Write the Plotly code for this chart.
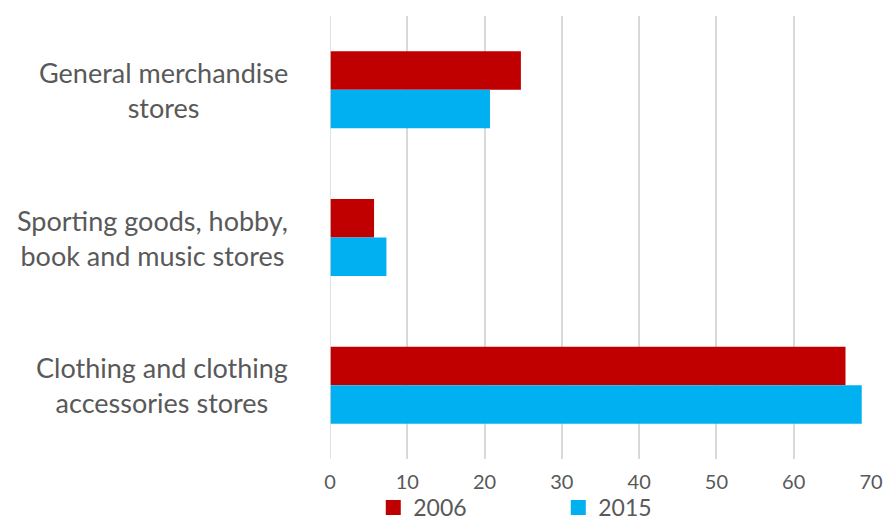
import plotly.graph_objects as go

categories = ["General merchandise<br>stores",
              "Sporting goods, hobby,<br>book and music stores",
              "Clothing and clothing<br>accessories stores"]
series_names = ["2006", "2015"]
values_2006 = [24.7, 5.7, 66.7]
values_2015 = [20.7, 7.3, 68.8]
x_ticks = [0, 10, 20, 30, 40, 50, 60, 70]

colors = ["#C00000", "#00B0F0"]
font_family = "Lato, 'Open Sans', sans-serif"
text_color = "#595959"

fig = go.Figure()
for name, vals, col in zip(series_names, [values_2006, values_2015], colors):
    fig.add_trace(go.Bar(
        y=categories, x=vals, name=name, orientation="h",
        marker=dict(color=col, line=dict(width=0)), showlegend=False,
    ))
# legend entries with larger square swatches
for name, col in zip(series_names, colors):
    fig.add_trace(go.Scatter(
        x=[None], y=[None], mode="markers", name=name,
        marker=dict(symbol="square", size=15, color=col), showlegend=True,
    ))

for cat in categories:
    fig.add_annotation(
        x=0, xref="paper", y=cat, yref="y", xanchor="right", yanchor="middle",
        xshift=-40, align="center", text=cat, showarrow=False,
        font=dict(family=font_family, size=27, color=text_color),
    )

fig.update_layout(
    width=885, height=521,
    margin=dict(l=330, r=14, t=16, b=62, autoexpand=False),
    paper_bgcolor="white", plot_bgcolor="white",
    barmode="group", bargap=0.478, bargroupgap=0,
    showlegend=True,
    legend=dict(orientation="h", x=0.08, xref="paper", y=0.026, yref="container",
                xanchor="left", yanchor="middle",
                font=dict(family=font_family, size=23, color=text_color),
                entrywidth=140, entrywidthmode="pixels", itemwidth=30,
                bgcolor="rgba(0,0,0,0)"),
    xaxis=dict(range=[0, 70], tickvals=x_ticks, showgrid=True,
               gridcolor="#D9D9D9", gridwidth=1.5, zeroline=False,
               ticks="outside", ticklen=5, tickcolor="rgba(0,0,0,0)",
               tickfont=dict(family=font_family, size=20, color=text_color),
               showline=False, fixedrange=True),
    yaxis=dict(autorange="reversed", showticklabels=False, showgrid=False,
               zeroline=False, showline=False, ticks=""),
)
fig.add_shape(type="line", xref="x", yref="paper", x0=0, x1=0, y0=0, y1=1,
              line=dict(color="#D9D9D9", width=1.5))

fig.write_html("out.html")
